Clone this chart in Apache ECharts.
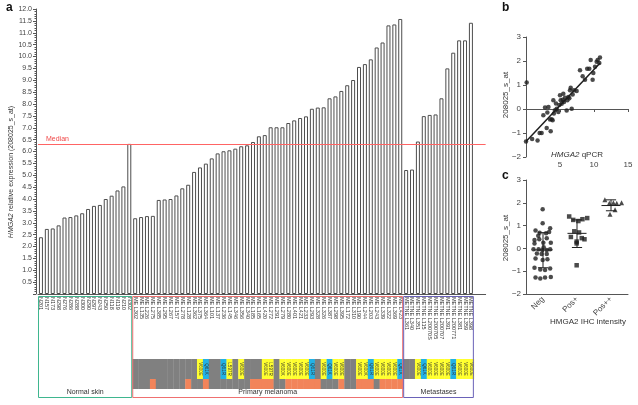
<!DOCTYPE html>
<html><head><meta charset="utf-8">
<script src="https://cdn.jsdelivr.net/npm/echarts@6/dist/echarts.min.js"></script>
<style>html,body{margin:0;padding:0;background:#fff}#c{width:638px;height:405px}</style>
</head><body><div id="c"></div>
<script>
// ---------- Panel a data ----------
const normalLabels = ['N201','N157','N173','N298','N276','N286','N288','N300','N290','N297','N243','N250','N118','N119','N210','N302'];
const normalValues = [2.39,2.74,2.76,2.89,3.22,3.24,3.31,3.40,3.58,3.71,3.75,4.00,4.14,4.36,4.53,6.32];

const primaryLabels = ['ME L302','ME L135','ME L226','ME L275','ME L385','ME L295','ME L267','ME L157','ME L278','ME L128','ME L362','ME L375','ME L364','ME L101','ME L137','ME L236','ME L145','ME L346','ME L356','ME L340','ME L185','ME L165','ME L420','ME L272','ME L291','ME L279','ME L280','ME L401','ME L421','ME L233','ME L293','ME L328','ME L326','ME L387','ME L298','ME L395','ME L172','ME L310','ME L190','ME L244','ME L203','ME L243','ME L339','ME L322','ME L369','ME L423'];
const primaryValues = [3.19,3.24,3.28,3.29,3.96,3.98,4.00,4.15,4.45,4.60,5.14,5.33,5.49,5.71,5.92,6.01,6.05,6.12,6.22,6.26,6.40,6.64,6.69,7.02,7.02,7.02,7.20,7.31,7.41,7.48,7.80,7.85,7.86,8.24,8.32,8.55,8.79,9.01,9.56,9.68,9.88,10.38,10.59,11.31,11.35,11.58];
const primaryMutations = ['','','','','','','','','','','','V600E','Q61K','','','Q61R','L597R','','V600E','','','','V600E','L597R','','V600K','V600E','V600E','V600E','V600E','Q61R','','V600E','Q61K','V600E','V600E','','','V600E','V600K','Q61R','V600E','V600E','V600E','V600E','Q61K'];
const primarySecondRow = [0,0,0,1,0,0,0,0,0,1,0,0,1,0,0,0,0,0,0,0,1,1,1,1,0,0,1,1,1,1,1,1,0,0,0,1,0,0,1,1,1,0,1,1,1,1];

const metLabels = ['METNE L361','METNE L340','METNE L351','METNE L115','METNE L20070S','METNE L200705','METNE L200707','METNE L391','METNE L200771','METNE L381','METNE L359','METNE L398'];
const metValues = [5.22,5.24,6.42,7.49,7.54,7.56,8.24,9.50,10.16,10.68,10.68,11.42];
const metMutations = ['','','V600E','Q61K','V600E','V600E','V600E','V600E','Q61R','V600E','V600E','V600E'];

const groupNames = ['Normal skin','Primary melanoma','Metastases'];
const medianValue = 6.3;
const yTicksA = {min: 0, max: 12, step: 0.5};

// ---------- Panel b data ----------
const bPoints = [[0.1,1.1],[0,-1.35],[0.9,-1.25],[1.7,-1.31],[2.0,-1.0],[2.3,-1.0],[2.55,-0.26],[2.8,0.06],[3.04,-0.79],[3.14,-0.15],[3.3,0.08],[3.53,-0.44],[3.63,-0.93],[3.77,-0.43],[3.92,-0.47],[4.02,0.36],[4.1,-0.19],[4.27,-0.05],[4.41,0.23],[4.51,0.01],[4.76,-0.12],[4.9,0.17],[5.0,0.57],[5.1,0.36],[5.25,0.22],[5.39,0.39],[5.49,0.64],[5.59,0.29],[5.74,0.47],[5.98,-0.06],[6.08,0.36],[6.23,0.5],[6.37,0.45],[6.47,0.78],[6.57,0.89],[6.72,0.01],[6.86,0.6],[7.06,0.78],[7.45,0.75],[7.94,1.61],[8.33,1.36],[8.68,1.22],[9.0,1.68],[9.31,1.68],[9.51,2.04],[9.8,1.22],[9.9,1.5],[10.15,1.76],[10.39,1.97],[10.54,2.04],[10.88,2.15],[10.78,1.92]];
const bFit = [[0,-1.35],[10.9,1.92]];

// ---------- Panel c data ----------
const cCategories = ['Neg','Pos+','Pos++'];
const cNeg = [[0.49,1.72],[0.49,1.10],[0.28,0.78],[0.40,0.69],[0.59,0.66],[0.71,0.88],[0.68,0.72],[0.25,0.37],[0.39,0.40],[0.51,0.25],[0.61,0.44],[0.73,0.25],[0.25,0.22],[0.37,-0.04],[0.22,-0.04],[0.48,-0.07],[0.61,-0.07],[0.71,-0.04],[0.32,-0.22],[0.46,-0.25],[0.61,-0.25],[0.28,-0.44],[0.49,-0.51],[0.63,-0.48],[0.25,-0.85],[0.42,-0.93],[0.56,-0.95],[0.71,-0.88],[0.28,-1.28],[0.42,-1.32],[0.56,-1.28],[0.73,-1.25],[0.52,0.05],[0.36,0.55]];
const cPos = [[1.27,1.40],[1.39,1.25],[1.54,1.20],[1.66,1.28],[1.80,1.33],[1.42,0.75],[1.56,0.70],[1.32,0.50],[1.64,0.45],[1.72,0.40],[1.49,0.30],[1.49,0.22],[1.49,-0.74]];
const cPosPos = [[2.32,2.13],[2.45,1.98],[2.57,2.0],[2.67,1.98],[2.81,2.0],[2.62,1.69],[2.47,1.50]];
const cMean = [-0.07, 0.66, 1.88];
const cLower = [-0.85, 0.04, 1.65];
const cUpper = [0.69, 1.25, 2.13];

// ---------- build ----------
const FONT = '"Liberation Sans", Arial, sans-serif';
const GRAY = '#808080', YELLOW = '#ffff2e', BLUE = '#22b2e6', ORANGE = '#f2845a';
const groupColors = ['#3fb68f', '#ef7070', '#6a62b8'];

const nN = normalLabels.length, nP = primaryLabels.length, nM = metLabels.length;
const allLabels = normalLabels.concat(primaryLabels, metLabels);
const allValues = normalValues.concat(primaryValues, metValues);
const cats = allLabels.concat(['', '']); // axis line runs a little past last sample
const BAND = 5.89;
const GW = BAND * cats.length;

const mutCodes = primaryMutations.concat(metMutations);
const mutData = mutCodes.map((c, k) => [nN + k, 0]);
const secondData = primarySecondRow.map((f, k) => [nN + k, f]);
const groupData = [[0, nN - 1, 0], [nN, nN + nP - 1, 1], [nN + nP, nN + nP + nM - 1, 2]];
const cStats = cMean.map((m, k) => [k, m, cLower[k], cUpper[k]]);

const minus = v => (v < 0 ? '\u2212' + Math.abs(v) : String(v));
const axisCol = '#555';

const chart = echarts.init(document.getElementById('c'));
chart.setOption({
  animation: false,
  textStyle: {fontFamily: FONT},
  grid: [
    {left: 38, top: 9, width: GW, height: 285},
    {left: 38, top: 359, width: GW, height: 30},
    {left: 38, top: 296, width: GW, height: 102},
    {left: 526, top: 37, width: 102, height: 120},
    {left: 526, top: 180, width: 102, height: 114}
  ],
  xAxis: [
    {gridIndex: 0, type: 'category', data: cats,
     axisLine: {lineStyle: {color: axisCol, width: 1}},
     axisTick: {length: 3, lineStyle: {color: axisCol}},
     axisLabel: {interval: 0, rotate: -90, fontSize: 5.5, color: '#333', margin: 3}},
    {gridIndex: 1, type: 'category', data: cats, show: false},
    {gridIndex: 2, type: 'category', data: cats, show: false},
    {gridIndex: 3, type: 'value', min: 0, max: 15, interval: 5,
     axisLine: {onZero: true, lineStyle: {color: axisCol}},
     axisTick: {length: 3, lineStyle: {color: axisCol}},
     splitLine: {show: false},
     axisLabel: {fontSize: 8, color: '#444', showMinLabel: false, margin: 4}},
    {gridIndex: 4, type: 'category', data: cCategories,
     axisLine: {onZero: false, lineStyle: {color: axisCol}},
     axisTick: {alignWithLabel: true, length: 3, lineStyle: {color: axisCol}},
     axisLabel: {rotate: 45, fontSize: 8, color: '#444', margin: 4}},
    {gridIndex: 4, type: 'value', min: 0, max: 3, show: false}
  ],
  yAxis: [
    {gridIndex: 0, type: 'value', min: yTicksA.min, max: yTicksA.max, interval: yTicksA.step, offset: 2,
     axisLine: {show: true, lineStyle: {color: axisCol}},
     axisTick: {show: true, length: 3, lineStyle: {color: axisCol}},
     minorTick: {show: true, splitNumber: 5, length: 1.5, lineStyle: {color: axisCol}},
     splitLine: {show: false},
     axisLabel: {formatter: v => v.toFixed(1), fontSize: 7, color: '#444', margin: 4, showMinLabel: false}},
    {gridIndex: 1, type: 'value', min: 0, max: 3, show: false},
    {gridIndex: 2, type: 'value', min: 0, max: 1, show: false},
    {gridIndex: 3, type: 'value', min: -2, max: 3, interval: 1,
     axisLine: {show: true, lineStyle: {color: axisCol}},
     axisTick: {show: true, length: 3, lineStyle: {color: axisCol}},
     splitLine: {show: false},
     axisLabel: {fontSize: 8, color: '#444', formatter: minus, margin: 5}},
    {gridIndex: 4, type: 'value', min: -2, max: 3, interval: 1,
     axisLine: {show: true, lineStyle: {color: axisCol}},
     axisTick: {show: true, length: 3, lineStyle: {color: axisCol}},
     splitLine: {show: false},
     axisLabel: {fontSize: 8, color: '#444', formatter: minus, margin: 5}}
  ],
  series: [
    {type: 'bar', xAxisIndex: 0, yAxisIndex: 0, data: allValues, barWidth: 4,
     itemStyle: {color: '#fff', borderColor: '#4d4d4d', borderWidth: 1},
     markLine: {silent: true, symbol: 'none', data: [{yAxis: medianValue}],
       lineStyle: {color: '#ff6464', width: 1, type: 'solid'},
       label: {formatter: 'Median', position: 'insideStartTop', color: '#f04848', fontSize: 7, distance: [8, 2]}}},
    {type: 'custom', xAxisIndex: 1, yAxisIndex: 1, data: mutData, clip: false,
     renderItem: (params, api) => {
       const i = api.value(0);
       const code = mutCodes[params.dataIndex];
       const w = api.size([1, 0])[0];
       const a = api.coord([i, 3]), b = api.coord([i, 1]);
       const fill = code === '' ? GRAY : (code[0] === 'Q' ? BLUE : YELLOW);
       const ch = [{type: 'rect', shape: {x: a[0] - w / 2, y: a[1], width: w + 0.3, height: b[1] - a[1]}, style: {fill: fill}}];
       if (code) ch.push({type: 'text', x: a[0], y: (a[1] + b[1]) / 2, rotation: -Math.PI / 2,
         style: {text: code, fontSize: 4.5, fontFamily: FONT, fill: '#333', align: 'center', verticalAlign: 'middle'}});
       return {type: 'group', children: ch};
     }},
    {type: 'custom', xAxisIndex: 1, yAxisIndex: 1, data: secondData, clip: false,
     renderItem: (params, api) => {
       const i = api.value(0), f = api.value(1);
       const w = api.size([1, 0])[0];
       const a = api.coord([i, 1]), b = api.coord([i, 0]);
       return {type: 'rect', shape: {x: a[0] - w / 2, y: a[1], width: w + 0.3, height: b[1] - a[1]}, style: {fill: f ? ORANGE : GRAY}};
     }},
    {type: 'custom', xAxisIndex: 2, yAxisIndex: 2, data: groupData, clip: false,
     renderItem: (params, api) => {
       const s = api.value(0), e = groupData[params.dataIndex][1], g = groupData[params.dataIndex][2];
       const w = api.size([1, 0])[0];
       const p0 = api.coord([s, 1]), p1 = api.coord([e, 0]);
       const x0 = p0[0] - w / 2 + 0.5, x1 = p1[0] + w / 2 - 0.5;
       return {type: 'group', children: [
         {type: 'rect', shape: {x: x0, y: p0[1] + 0.5, width: x1 - x0, height: p1[1] - p0[1] - 1},
          style: {fill: 'none', stroke: groupColors[g], lineWidth: 1}},
         {type: 'text', x: (x0 + x1) / 2, y: p1[1] - 5.5,
          style: {text: groupNames[g], fontSize: 7, fontFamily: FONT, fill: '#333', align: 'center', verticalAlign: 'middle'}}
       ]};
     }},
    {type: 'scatter', xAxisIndex: 3, yAxisIndex: 3, data: bPoints, symbolSize: 4.5, itemStyle: {color: '#1e1e1e'}},
    {type: 'line', xAxisIndex: 3, yAxisIndex: 3, data: bFit, symbol: 'none', lineStyle: {color: '#1e1e1e', width: 1.5}},
    {type: 'scatter', xAxisIndex: 5, yAxisIndex: 4, data: cNeg, symbol: 'circle', symbolSize: 4.5, itemStyle: {color: '#1e1e1e'}},
    {type: 'scatter', xAxisIndex: 5, yAxisIndex: 4, data: cPos, symbol: 'rect', symbolSize: 4.5, itemStyle: {color: '#1e1e1e'}},
    {type: 'scatter', xAxisIndex: 5, yAxisIndex: 4, data: cPosPos, symbol: 'triangle', symbolSize: 5, itemStyle: {color: '#1e1e1e'}},
    {type: 'custom', xAxisIndex: 5, yAxisIndex: 4, data: cStats, clip: false,
     renderItem: (params, api) => {
       const k = api.value(0);
       const st = cStats[params.dataIndex];
       const unit = api.size([1, 0])[0];
       const pm = api.coord([k + 0.5, st[1]]), pl = api.coord([k + 0.5, st[2]]), pu = api.coord([k + 0.5, st[3]]);
       const hw = unit * 0.28, cw = unit * 0.15;
       const ls = {stroke: '#1e1e1e', lineWidth: 1};
       return {type: 'group', children: [
         {type: 'line', shape: {x1: pm[0] - hw, y1: pm[1], x2: pm[0] + hw, y2: pm[1]}, style: ls},
         {type: 'line', shape: {x1: pl[0], y1: pl[1], x2: pu[0], y2: pu[1]}, style: ls},
         {type: 'line', shape: {x1: pl[0] - cw, y1: pl[1], x2: pl[0] + cw, y2: pl[1]}, style: ls},
         {type: 'line', shape: {x1: pu[0] - cw, y1: pu[1], x2: pu[0] + cw, y2: pu[1]}, style: ls}
       ]};
     }}
  ],
  graphic: [
    {type: 'text', x: 6, y: 2, style: {text: 'a', fontSize: 12, fontWeight: 'bold', fontFamily: FONT, fill: '#111'}},
    {type: 'text', x: 502, y: 2, style: {text: 'b', fontSize: 12, fontWeight: 'bold', fontFamily: FONT, fill: '#111'}},
    {type: 'text', x: 502, y: 170, style: {text: 'c', fontSize: 12, fontWeight: 'bold', fontFamily: FONT, fill: '#111'}},
    {type: 'text', x: 11, y: 172, rotation: Math.PI / 2,
     style: {text: '{i|HMGA2} relative expression (208025_s_at)', fontSize: 7, fontFamily: FONT, fill: '#333', align: 'center', verticalAlign: 'middle',
       rich: {i: {fontStyle: 'italic', fontSize: 7, fontFamily: FONT, fill: '#333'}}}},
    {type: 'text', x: 506, y: 95, rotation: Math.PI / 2,
     style: {text: '208025_s_at', fontSize: 8, fontFamily: FONT, fill: '#333', align: 'center', verticalAlign: 'middle'}},
    {type: 'text', x: 506, y: 238, rotation: Math.PI / 2,
     style: {text: '208025_s_at', fontSize: 8, fontFamily: FONT, fill: '#333', align: 'center', verticalAlign: 'middle'}},
    {type: 'text', x: 577, y: 155,
     style: {text: '{i|HMGA2} qPCR', fontSize: 8, fontFamily: FONT, fill: '#333', align: 'center', verticalAlign: 'middle',
       rich: {i: {fontStyle: 'italic', fontSize: 8, fontFamily: FONT, fill: '#333'}}}},
    {type: 'text', x: 588, y: 322,
     style: {text: 'HMGA2 IHC intensity', fontSize: 8, fontFamily: FONT, fill: '#333', align: 'center', verticalAlign: 'middle'}}
  ]
});
</script></body></html>
